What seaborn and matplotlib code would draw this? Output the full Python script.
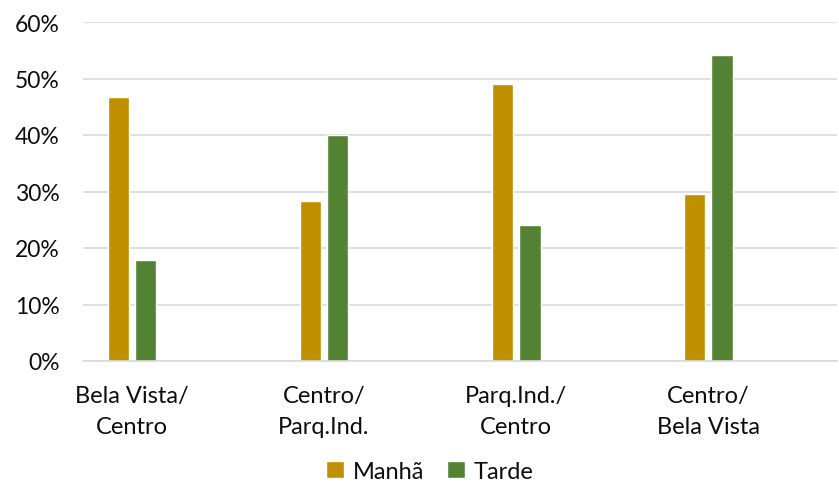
import matplotlib
matplotlib.use("Agg")
import matplotlib.pyplot as plt
import seaborn as sns
import pandas as pd
from matplotlib.ticker import FuncFormatter

# Share of trips per route, morning vs afternoon
routes = ["Bela Vista/\nCentro", "Centro/\nParq.Ind.", "Parq.Ind./\nCentro", "Centro/\nBela Vista"]
manha = [0.468, 0.283, 0.490, 0.296]
tarde = [0.179, 0.400, 0.241, 0.542]
periods = ["Manhã", "Tarde"]
colors = ["#BF9000", "#548235"]

df = pd.DataFrame({
    "rota": routes * 2,
    "periodo": [periods[0]] * len(routes) + [periods[1]] * len(routes),
    "valor": manha + tarde,
})

sns.set_theme(style="white")
plt.rcParams["font.family"] = ["Lato", "DejaVu Sans"]

fig = plt.figure(figsize=(8.39, 4.89), dpi=100)
ax = fig.add_axes([83 / 839, 1 - 362 / 489, (837 - 83) / 839, (362 - 23) / 489])

sns.barplot(data=df, x="rota", y="valor", hue="periodo", palette=colors,
            width=0.286, gap=0.23, ax=ax, saturation=1, legend=True)

ax.set_ylim(0, 0.6)
ax.set_xlim(-0.255, 3.67)
ax.set_yticks([0, 0.1, 0.2, 0.3, 0.4, 0.5, 0.6])
ax.yaxis.set_major_formatter(FuncFormatter(lambda v, _: f"{v * 100:.0f}%"))
ax.grid(axis="y", color="#D9D9D9", linewidth=1.2)
ax.set_axisbelow(True)
for s in ["top", "right", "left"]:
    ax.spines[s].set_visible(False)
ax.spines["bottom"].set_color("#D9D9D9")
ax.spines["bottom"].set_linewidth(1.2)
ax.set_xlabel("")
ax.set_ylabel("")
ax.tick_params(axis="y", length=0, pad=17, labelsize=16.5, labelcolor="#0d0d0d")
ax.tick_params(axis="x", length=0, pad=17, labelsize=17, labelcolor="#0d0d0d")
for lbl in ax.get_xticklabels():
    lbl.set_linespacing(1.6)

handles, labels = ax.get_legend_handles_labels()
ax.legend(handles, labels, loc="center", bbox_to_anchor=(0.46, -0.325),
          ncol=2, frameon=False, fontsize=17, handlelength=0.75, handleheight=0.75,
          handletextpad=0.35, columnspacing=1.0, labelcolor="#0d0d0d")

fig.savefig("out.png", dpi=100)
